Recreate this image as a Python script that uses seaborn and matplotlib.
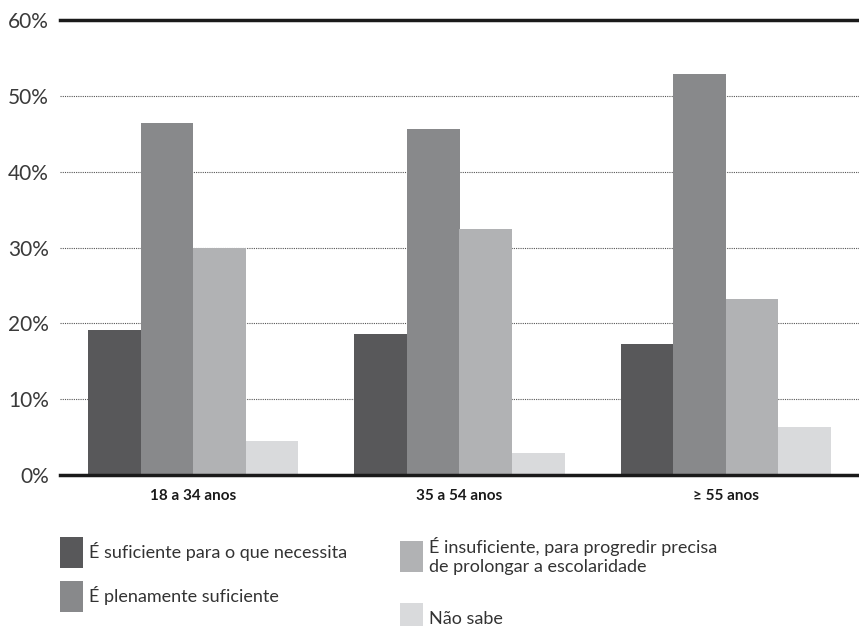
import pandas as pd
import seaborn as sns
import matplotlib.pyplot as plt
from matplotlib.patches import Patch

# Data
groups = ["18 a 34 anos", "35 a 54 anos", "≥ 55 anos"]
answers = [
    "É suficiente para o que necessita",
    "É plenamente suficiente",
    "É insuficiente, para progredir precisa\nde prolongar a escolaridade",
    "Não sabe",
]
suficiente = [19.1, 18.6, 17.3]
plenamente = [46.4, 45.6, 52.9]
insuficiente = [29.9, 32.4, 23.2]
nao_sabe = [4.5, 2.9, 6.3]
colors = ["#58585a", "#88898b", "#b1b2b4", "#d9dadc"]
yticks = [0, 10, 20, 30, 40, 50, 60]

df = pd.DataFrame({
    "group": groups * 4,
    "answer": [a for a in answers for _ in groups],
    "value": suficiente + plenamente + insuficiente + nao_sabe,
})

sns.set_theme(style="white")
plt.rcParams["font.family"] = ["Lato", "DejaVu Sans"]

fig = plt.figure(figsize=(8.59, 6.26), dpi=100)
ax = fig.add_axes([60 / 859, 1 - 475 / 626, 1 - 60 / 859, (475 - 20) / 626])

sns.barplot(
    data=df, x="group", y="value", hue="answer",
    order=groups, hue_order=answers, palette=colors,
    saturation=1, width=0.79, linewidth=0, ax=ax, legend=False,
)

ax.set_xlim(-0.5, 2.5)
ax.set_ylim(0, 60)
ax.set_yticks(yticks)
ax.set_yticklabels([f"{t}%" for t in yticks], fontsize=15, color="#3a3a3a")
ax.set_xlabel("")
ax.set_ylabel("")
ax.tick_params(axis="y", length=0, pad=8)
ax.tick_params(axis="x", length=0, pad=10)
for lab in ax.get_xticklabels():
    lab.set_fontweight("bold")
    lab.set_fontsize(11)
    lab.set_color("#1a1a1a")

for t in yticks[1:-1]:
    ax.axhline(t, color="#555555", linewidth=0.8, linestyle=(0, (1, 1)), zorder=0)

for side in ["left", "right"]:
    ax.spines[side].set_visible(False)
for side in ["top", "bottom"]:
    ax.spines[side].set_visible(True)
    ax.spines[side].set_linewidth(2.5)
    ax.spines[side].set_color("#1a1a1a")

# Legend in two columns
handles = [Patch(facecolor=c, edgecolor="none") for c in colors]
leg_kw = dict(frameon=False, handlelength=1.3, handleheight=2.3, handletextpad=0.3,
              prop={"size": 13}, borderaxespad=0, borderpad=0)
leg1 = fig.legend(handles[:2], answers[:2], loc="upper left",
                  bbox_to_anchor=(60 / 859, 1 - 537 / 626), labelspacing=0.7, **leg_kw)
leg2 = fig.legend(handles[2:], answers[2:], loc="upper left",
                  bbox_to_anchor=(400 / 859, 1 - 537 / 626), labelspacing=1.55, **leg_kw)
for leg in (leg1, leg2):
    for txt in leg.get_texts():
        txt.set_color("#333333")

fig.savefig("out.png", dpi=100)
plt.close(fig)
